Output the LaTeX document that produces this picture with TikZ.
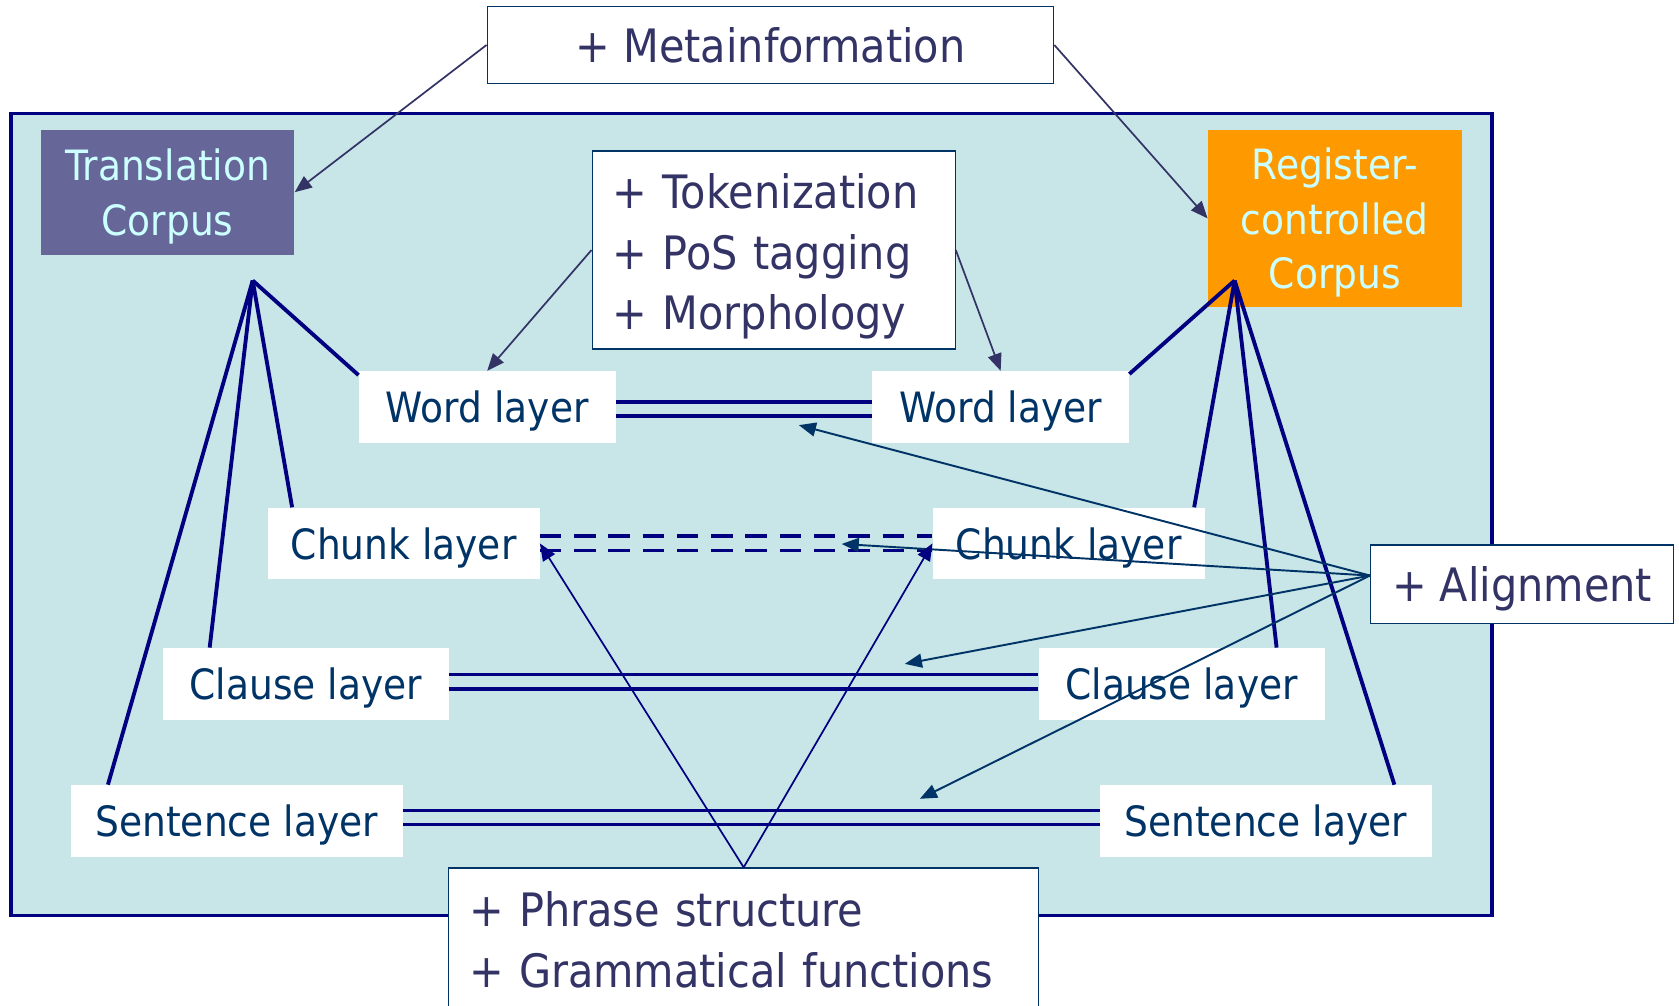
\documentclass[tikz,border=0pt]{standalone}
\usepackage{fontspec}
\setmainfont[FakeStretch=0.9]{DejaVu Sans}
\usetikzlibrary{arrows.meta}
\definecolor{panelbg}{RGB}{200,229,231}
\definecolor{navyline}{RGB}{0,0,128}
\definecolor{layertext}{RGB}{0,51,102}
\definecolor{notetext}{RGB}{51,51,102}
\definecolor{transfill}{RGB}{102,102,153}
\definecolor{regfill}{RGB}{255,153,0}
\definecolor{corpustext}{RGB}{204,255,255}

\begin{document}
\begin{tikzpicture}[x=1pt, y=-1pt,
  every node/.style = {shape=rectangle, inner sep=0pt, align=center, text depth=0pt},
  layerbox/.style = {fill=white, text=layertext, minimum width=#1,
    minimum height=67pt, font=\fontsize{39}{46}\selectfont},
  corpusbox/.style = {text=corpustext, minimum width=237pt,
    font=\fontsize{39}{51}\selectfont},
  notebox/.style = {draw=layertext, line width=1.2pt, fill=white,
    text=notetext, font=\fontsize{43}{56.5}\selectfont},
  listbox/.style = {notebox, align=left, text width=#1, inner xsep=19pt},
  tie/.style = {navyline, line width=3.6pt},
  pair/.style = {navyline, line width=3.6pt, double=panelbg, double distance=9.5pt},
  metaarrow/.style = {-{Triangle[length=16pt,width=13pt]}, notetext, line width=1.6pt},
  alnarrow/.style = {-{Triangle[length=16pt,width=13pt]}, layertext, line width=1.8pt},
  phrarrow/.style = {-{Triangle[length=16pt,width=13pt]}, navyline, line width=1.6pt}]
  \useasboundingbox (0,0) rectangle (1568,939);
  \draw[navyline, line width=3.6pt, fill=panelbg] (10,106) rectangle (1393,855);

  \node[notebox, minimum width=529pt, minimum height=72pt] (meta) at (719.5,42) {+ Metainformation};
  \node[corpusbox, fill=transfill, minimum height=117pt] (trans) at (156.5,179.5) {Translation\\Corpus};
  \node[corpusbox, fill=regfill, minimum height=166pt] (reg) at (1246.5,204) {Register-\\controlled\\Corpus};
  \node[listbox=301pt, text depth=110pt, minimum height=185pt] (tok)
    at (722.5,233.5) {+ Tokenization\\+ PoS tagging\\+ Morphology};

  \node[layerbox=240pt] (wordL) at (455,380) {Word layer};
  \node[layerbox=240pt] (wordR) at (934.5,380) {Word layer};
  \node[layerbox=254pt] (chunkL) at (377,507.5) {Chunk layer};
  \node[layerbox=254pt] (chunkR) at (998,507.5) {Chunk layer};
  \node[layerbox=267pt] (clauseL) at (285.5,638.5) {Clause layer};
  \node[layerbox=267pt] (clauseR) at (1103.5,638.5) {Clause layer};
  \node[layerbox=310pt] (sentL) at (221,766.5) {Sentence layer};
  \node[layerbox=310pt] (sentR) at (1182,766.5) {Sentence layer};

  \node[listbox=513pt, text depth=, minimum height=134pt, anchor=north] (phrase)
    at (694.5,810) {+ Phrase structure\\+ Grammatical functions};
  \node[notebox, minimum width=283pt, minimum height=73pt] (alignment) at (1421.5,545.5) {+ Alignment};

  \coordinate (tapex) at (236,262);
  \coordinate (rapex) at (1153,262);
  \foreach \n/\dx/\dy in {wordL/0/-4, chunkL/23/0, clauseL/44/0, sentL/35/0}
    \draw[tie] (tapex) -- ([xshift=\dx pt, yshift=\dy pt]\n.north west);
  \foreach \n/\dx/\dy in {wordR/0/-3, chunkR/-10/0, clauseR/-45/0, sentR/-35/0}
    \draw[tie] (rapex) -- ([xshift=\dx pt, yshift=\dy pt]\n.north east);

  \draw[pair] ([yshift=-2pt]wordL.east) -- ([yshift=-2pt]wordR.west);
  \draw[pair, dash pattern=on 20pt off 12pt] (chunkL.east) -- (chunkR.west);
  \draw[pair] ([yshift=2pt]clauseL.east) -- ([yshift=2pt]clauseR.west);
  \draw[pair] ([yshift=3pt]sentL.east) -- ([yshift=3pt]sentR.west);

  \draw[metaarrow] (meta.west) -- (trans.east);
  \draw[metaarrow] (meta.east) -- (reg.west);
  \draw[metaarrow] (tok.west) -- (wordL.north);
  \draw[metaarrow] (tok.east) -- (wordR.north);

  \coordinate (alnfrom) at ([yshift=8pt]alignment.west);
  \coordinate (wordtip) at (746,397);
  \coordinate (chunktip) at (786,508);
  \coordinate (clausetip) at (845,620);
  \coordinate (senttip) at (859,746);
  \foreach \t in {wordtip, chunktip, clausetip, senttip}
    \draw[alnarrow] (alnfrom) -- (\t);

  \draw[phrarrow] (phrase.north) -- (chunkL.east);
  \draw[phrarrow] (phrase.north) -- (chunkR.west);
\end{tikzpicture}
\end{document}
